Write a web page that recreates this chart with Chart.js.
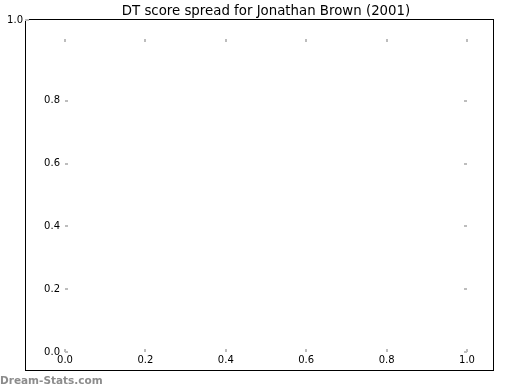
<!DOCTYPE html>
<html>
<head>
<meta charset="utf-8">
<script src="https://cdn.jsdelivr.net/npm/chart.js@4/dist/chart.umd.min.js"></script>
<style>
html,body{margin:0;padding:0;background:#fff;}
#wrap{width:520px;height:390px;position:relative;}
</style>
</head>
<body>
<div id="wrap"><canvas id="c" width="520" height="390"></canvas></div>
<script>
// ---- data (the reference chart is empty: no scores plotted) ----
const titleText = 'DT score spread for Jonathan Brown (2001)';
const watermarkText = 'Dream-Stats.com';
const scorePoints = [];           // no data points in the reference
const xTickValues = [0, 0.2, 0.4, 0.6, 0.8, 1.0];
const xTickLabels = ['0.0', '0.2', '0.4', '0.6', '0.8', '1.0'];
const yTickValues = [0, 0.2, 0.4, 0.6, 0.8, 1.0];
const yTickLabels = ['0.0', '0.2', '0.4', '0.6', '0.8', '1.0'];

const FONT = 'DejaVu Sans';

const decor = {
  id: 'decor',
  beforeDraw(chart) {
    const ctx = chart.ctx;
    ctx.save();
    ctx.fillStyle = '#ffffff';
    ctx.fillRect(0, 0, chart.width, chart.height);
    ctx.restore();
  },
  afterDraw(chart) {
    const ctx = chart.ctx;
    const a = chart.chartArea;
    const xs = chart.scales.x, ys = chart.scales.y;
    ctx.save();
    // outer frame
    ctx.strokeStyle = '#000000';
    ctx.lineWidth = 1;
    ctx.strokeRect(25.5, 19.5, 468, 351);
    // tick marks (inward, light grey)
    ctx.strokeStyle = '#bdbdbd';
    ctx.lineWidth = 2;
    ctx.beginPath();
    xTickValues.forEach(v => {
      const px = Math.round(xs.getPixelForValue(v)) ;
      ctx.moveTo(px, a.top + 1); ctx.lineTo(px, a.top + 4);
      ctx.moveTo(px, a.bottom); ctx.lineTo(px, a.bottom - 3);
    });
    yTickValues.forEach((v, i) => {
      if (v === 1) return;
      const py = Math.round(ys.getPixelForValue(v));
      ctx.moveTo(a.left, py); ctx.lineTo(a.left + 3, py);
      ctx.moveTo(a.right, py); ctx.lineTo(a.right - 3, py);
    });
    // displaced top-left tick of the y axis
    ctx.moveTo(25, 20); ctx.lineTo(29, 20);
    ctx.stroke();
    // displaced "1.0" label of the y axis
    ctx.fillStyle = '#000000';
    ctx.font = '10px "' + FONT + '"';
    ctx.textAlign = 'right';
    ctx.textBaseline = 'middle';
    ctx.fillText(yTickLabels[yTickValues.indexOf(1)], 23, 20);
    // title
    ctx.font = '13.33px "' + FONT + '"';
    ctx.textAlign = 'center';
    ctx.textBaseline = 'alphabetic';
    ctx.fillText(titleText, (a.left + a.right) / 2, 15);
    // watermark
    ctx.fillStyle = '#8c8c8c';
    ctx.font = 'bold 10.5px "' + FONT + '"';
    ctx.textAlign = 'left';
    ctx.textBaseline = 'alphabetic';
    ctx.fillText(watermarkText, 0, 384);
    ctx.restore();
  }
};

new Chart(document.getElementById('c'), {
  type: 'scatter',
  data: { datasets: [{ label: 'DT score', data: scorePoints }] },
  options: {
    responsive: false,
    animation: false,
    events: [],
    layout: { padding: { left: 0, right: 53, top: 38, bottom: 0 } },
    plugins: { legend: { display: false }, tooltip: { enabled: false }, title: { display: false } },
    scales: {
      x: {
        type: 'linear', min: 0, max: 1,
        afterBuildTicks(s) { s.ticks = xTickValues.map(v => ({ value: v })); },
        afterFit(s) { s.height = 38; },
        grid: { display: false, drawTicks: false },
        border: { display: false },
        ticks: {
          color: '#000', padding: 2, maxRotation: 0, autoSkip: false,
          font: { family: FONT, size: 10 },
          callback: (v) => xTickLabels[xTickValues.indexOf(v)] ?? ''
        }
      },
      y: {
        type: 'linear', min: 0, max: 1,
        afterBuildTicks(s) { s.ticks = yTickValues.map(v => ({ value: v })); },
        afterFit(s) { s.width = 65; },
        grid: { display: false, drawTicks: false },
        border: { display: false },
        ticks: {
          color: '#000', padding: 5, autoSkip: false,
          font: { family: FONT, size: 10 },
          callback: (v) => v === 1 ? '' : (yTickLabels[yTickValues.indexOf(v)] ?? '')
        }
      }
    }
  },
  plugins: [decor]
});
</script>
</body>
</html>
